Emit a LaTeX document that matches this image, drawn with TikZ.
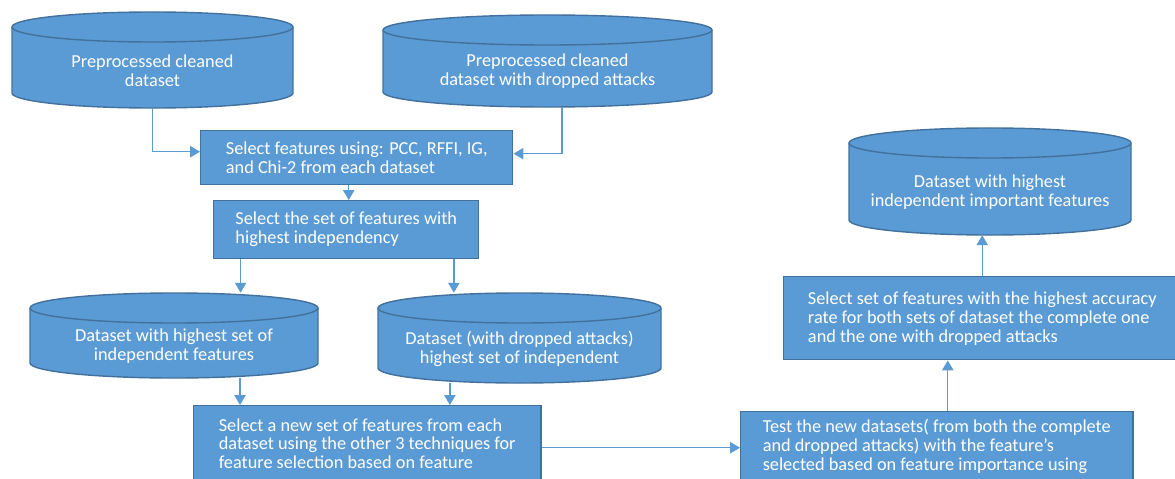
\documentclass[tikz,border=0pt]{standalone}
\usepackage{fontspec}
\setmainfont{Carlito}
\usetikzlibrary{arrows.meta}

\definecolor{boxblue}{RGB}{91,155,213}
\definecolor{edgeblue}{RGB}{65,113,156}
\definecolor{lineblue}{RGB}{91,155,213}

\newcommand{\stepfont}{\fontsize{13pt}{13.5pt}\selectfont}

\tikzset{
  dbbody/.style={fill=boxblue, draw=edgeblue, line width=1pt},
  dbedge/.style={draw=edgeblue, line width=1pt},
  dbarea/.style={inner sep=0pt},
  dbtext/.style={text=white, align=center, font=\stepfont, inner sep=0pt},
  stepbox/.style={fill=boxblue, draw=edgeblue, line width=1pt, text=white,
    align=left, anchor=north west, font=\stepfont, inner sep=0pt},
  flow/.style={draw=lineblue, line width=0.9pt, -{Triangle[width=8pt,length=7pt]}}
}

% name, left, top, right, bottom, text (in pixels of the sketch)
\newcommand{\dbcyl}[6]{%
  \pgfmathsetmacro{\dbcx}{(#2+#4)/2}
  \pgfmathsetmacro{\dbcy}{-(#3+#5)/2}
  \pgfmathsetlengthmacro{\dbrx}{(#4-#2)*0.0125cm}
  \path[dbbody] (#2,-#3-15) -- (#2,-#5+15)
    arc[start angle=180, end angle=360, x radius=\dbrx, y radius=0.375cm]
    -- (#4,-#3-15)
    arc[start angle=0, end angle=180, x radius=\dbrx, y radius=0.375cm] -- cycle;
  \draw[dbedge] (#2,-#3-15)
    arc[start angle=180, end angle=360, x radius=\dbrx, y radius=0.375cm];
  \node[dbarea, minimum width={(#4-#2)*0.025cm}, minimum height={(#5-#3)*0.025cm}]
    (#1) at (\dbcx,\dbcy) {};
  \node[dbtext] at ([yshift=-0.26cm]#1.center) {#6};
}

\begin{document}
\begin{tikzpicture}[x=0.025cm, y=0.025cm]
  \useasboundingbox[fill=white] (0,0) rectangle (1175,-479);

  \dbcyl{cylA}{12}{12}{293}{108}{Preprocessed cleaned\\dataset}
  \dbcyl{cylB}{383}{15}{712}{107}{Preprocessed cleaned\\dataset with dropped attacks}
  \dbcyl{cylC}{30}{293}{318}{378}{Dataset with highest set of\\independent features}
  \dbcyl{cylD}{378}{293}{661}{383}{Dataset (with dropped attacks)\\highest set of independent}
  \dbcyl{cylE}{849}{128}{1131}{235}{Dataset with highest\\independent important features}

  \begin{scope}[every node/.style={stepbox}]
    \node[minimum width=7.8cm, minimum height=1.35cm] (selfeat) at (200,-130)
      {Select features using: PCC, RFFI, IG,\\and Chi-2 from each dataset};
    \node[minimum width=6.625cm, minimum height=1.45cm] (highset) at (213,-200)
      {Select the set of features with\\highest independency};
    \node[minimum width=8.675cm, minimum height=1.9cm] (newset) at (193,-405)
      {Select a new set of features from each\\dataset using the other 3 techniques for\\feature selection based on feature};
    \node[minimum width=9.8cm, minimum height=1.75cm] (testsel) at (740,-411)
      {Test the new datasets( from both the complete\\and dropped attacks) with the feature’s\\selected based on feature importance using};
    \node[minimum width=9.925cm, minimum height=2.075cm] (accsel) at (783,-276)
      {Select set of features with the highest accuracy\\rate for both sets of dataset the complete one\\and the one with dropped attacks};
  \end{scope}

  \draw[flow] (cylA.south) |- ([yshift=0.15cm]selfeat.west);
  \draw[flow] ([xshift=0.36cm]cylB.south) |- ([yshift=0.1cm]selfeat.east);
  \draw[flow] ([xshift=-0.2cm]selfeat.south) -- ([xshift=-0.2cm]selfeat.south |- highset.north);
  \draw[flow] ([xshift=-2.64cm]highset.south) -- ([xshift=-2.64cm]highset.south |- cylC.north);
  \draw[flow] ([xshift=2.69cm]highset.south) -- ([xshift=2.69cm]highset.south |- cylD.north);
  \draw[flow] ([xshift=1.65cm]cylC.south) -- ([xshift=1.65cm]cylC.south |- newset.north);
  \draw[flow] ([xshift=-1.74cm]cylD.south) -- ([xshift=-1.74cm]cylD.south |- newset.north);
  \draw[flow] ([yshift=-0.1cm]newset.east) -- ([yshift=-0.1cm]newset.east -| testsel.west);
  \draw[flow] ([xshift=0.275cm]testsel.north) -- ([xshift=0.275cm]testsel.north |- accsel.south);
  \draw[flow] (accsel.north) -- (accsel.north |- cylE.south);
\end{tikzpicture}
\end{document}
